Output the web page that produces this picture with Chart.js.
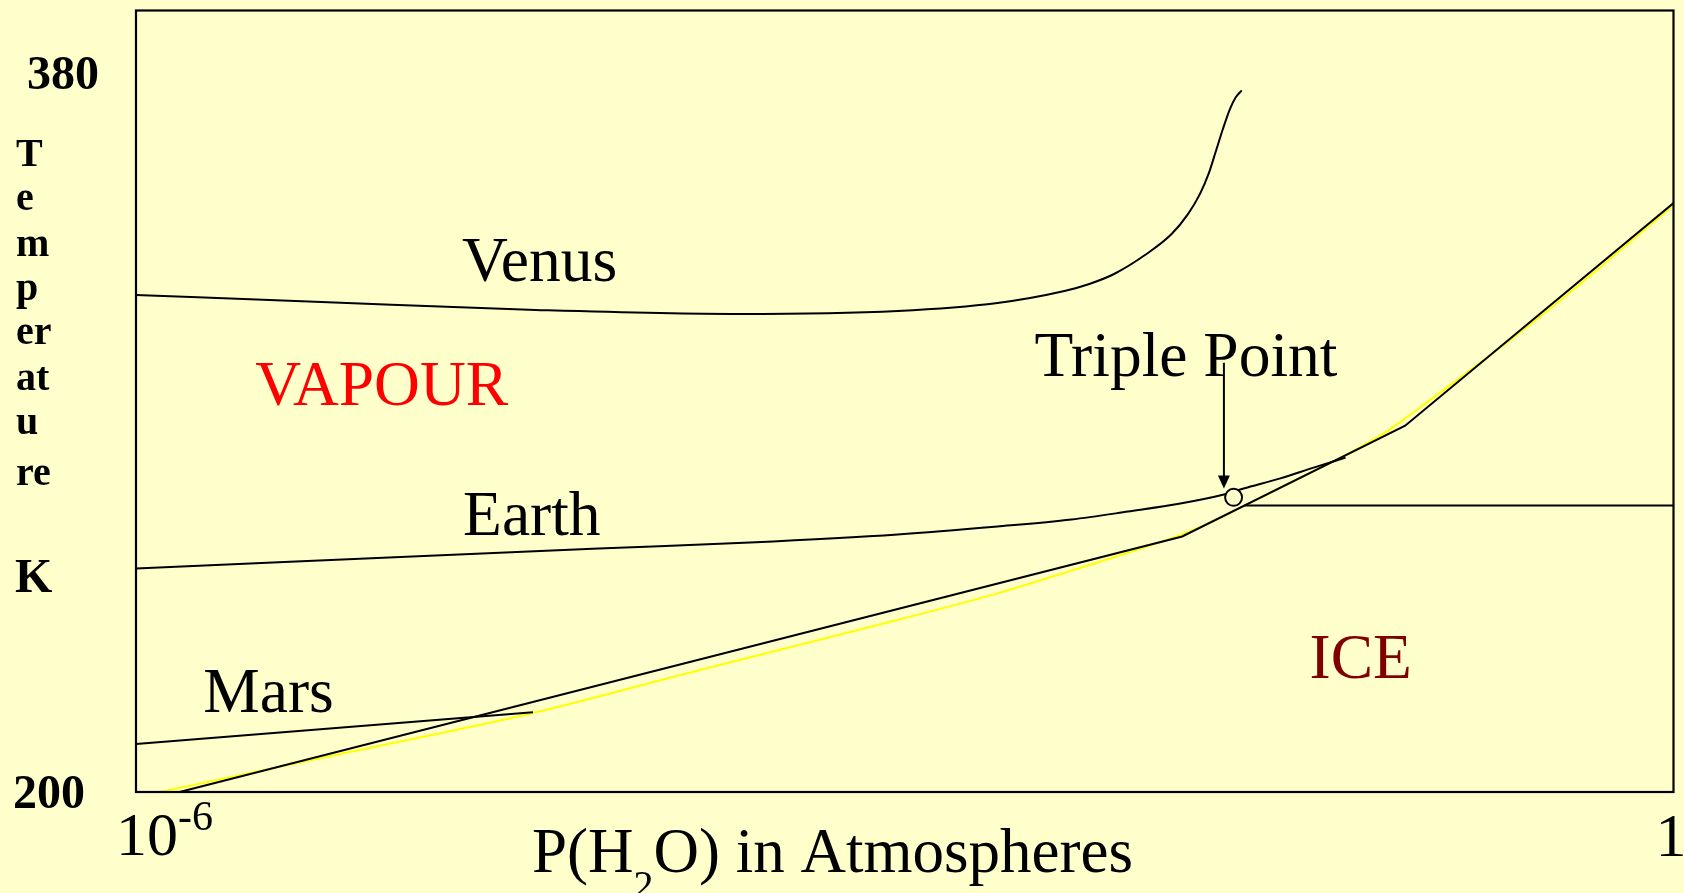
<!DOCTYPE html>
<html lang="en">
<head>
<meta charset="UTF-8">
<title>Water vapour pressure - Venus, Earth, Mars</title>
<script src="https://cdn.jsdelivr.net/npm/chart.js"></script>
<style>
  html, body { margin: 0; padding: 0; background: #ffffcc; overflow: hidden; }
  canvas { display: block; }
</style>
</head>
<body>
<canvas id="chart" width="1684" height="893"></canvas>
<script>
// pressure of H2O in atm (log axis), temperature in K
const venusP = [1e-6, 5.30e-6, 3.63e-5, 2.26e-4, 9.40e-4, 2.30e-3, 4.20e-3, 5.25e-3, 6.56e-3, 8.66e-3,
                1.10e-2, 1.274e-2, 1.418e-2, 1.537e-2, 1.637e-2, 1.743e-2, 1.856e-2, 1.958e-2, 2.066e-2];
const venusT = [324.5, 322.75, 320.75, 319.75, 320.5, 322.5, 325.5, 327.25, 329.75, 334.5,
                339.75, 344.75, 349.75, 355, 360.5, 366, 371, 374, 375.75];

const earthP = [1e-6, 6.38e-5, 2.49e-4, 9.39e-4, 2.30e-3, 4.47e-3, 7.44e-3, 1.19e-2, 1.76e-2, 2.10e-2, 2.90e-2, 3.94e-2, 5.25e-2];
const earthT = [256, 261, 262.5, 264.5, 266.5, 268.25, 270.25, 272.25, 274.5, 276, 278.5, 281.25, 283.75];

const marsP = [1e-6, 3.54e-5];
const marsT = [212, 220];

// sublimation curve (yellow) and the schematic ice boundary (black)
const sublP = [1.24e-6, 6.80e-6, 3.54e-5, 1.57e-4, 6.50e-4, 2.30e-3, 5.64e-3, 8.82e-3, 1.21e-2,
               1.62e-2, 2.16e-2, 3.38e-2, 5.29e-2, 7.58e-2, 1.02e-1, 2.03e-1, 3.63e-1, 1];
const sublT = [200, 210, 219.8, 230.5, 240.5, 249.75, 257.5, 261.5, 264.5,
               268, 272, 278.25, 284.5, 290.25, 296.25, 310.5, 323.25, 347];

const iceP = [1.48e-6, 1.21e-2, 8.97e-2, 1];
const iceT = [200, 264, 291.75, 347.5];

const meltP = [2.12e-2, 1];
const meltT = [271.75, 271.75];

const tripleP = [1.92e-2];
const tripleT = [273.8];

const yTicks = [200, 380];
const yTickLabels = ['200', '380'];
const xTicks = [1e-6, 1];
const yAxisLetters = ['T', 'e', 'm', 'p', 'er', 'at', 'u', 're'];
const yAxisUnit = 'K';
const regionLabels = ['Venus', 'VAPOUR', 'Earth', 'Mars', 'Triple Point', 'ICE'];

const BG = '#ffffcc';
const FONT = "'Liberation Serif', 'Times New Roman', serif";

function pts(xs, ys) {
  return xs.map((v, i) => ({ x: v, y: ys[i] }));
}

function text(ctx, str, x, y, size, bold, color) {
  ctx.font = (bold ? 'bold ' : '') + size + 'px ' + FONT;
  ctx.fillStyle = color || '#000';
  ctx.textAlign = 'left';
  ctx.textBaseline = 'alphabetic';
  ctx.fillText(str, x, y);
  return ctx.measureText(str).width;
}

const decorations = {
  id: 'decorations',
  afterDraw(chart) {
    const { ctx, chartArea: a, scales: { x, y } } = chart;
    ctx.save();

    // plot frame
    ctx.strokeStyle = '#000';
    ctx.lineWidth = 2.2;
    ctx.strokeRect(a.left, a.top, a.width, a.height);

    // arrow to the triple point
    const ax = x.getPixelForValue(1.76e-2);
    const ay0 = y.getPixelForValue(307.5);
    const ay1 = y.getPixelForValue(276);
    ctx.lineWidth = 2;
    ctx.beginPath();
    ctx.moveTo(ax, ay0);
    ctx.lineTo(ax, ay1 - 10);
    ctx.stroke();
    ctx.beginPath();
    ctx.moveTo(ax, ay1);
    ctx.lineTo(ax - 6, ay1 - 13);
    ctx.lineTo(ax + 6, ay1 - 13);
    ctx.closePath();
    ctx.fillStyle = '#000';
    ctx.fill();

    // labels inside the plot
    const anchors = [
      [1.87e-5, 328, '#000'],
      [2.92e-6, 297, '#ff0000'],
      [1.89e-5, 264.25, '#000'],
      [1.83e-6, 220, '#000'],
      [3.21e-3, 304.25, '#000'],
      [3.80e-2, 228.5, '#800000']
    ];
    regionLabels.forEach((s, i) => {
      const [p, t, c] = anchors[i];
      text(ctx, s, x.getPixelForValue(p), y.getPixelForValue(t), 63.5, false, c);
    });

    // y tick labels
    const yLeft = [13, 27];
    yTicks.forEach((v, i) => {
      text(ctx, yTickLabels[i], yLeft[i], y.getPixelForValue(v) + 16, 48, true);
    });

    // y axis title, stacked letters
    const base = [166, 210, 256, 300, 344, 390, 434, 485];
    yAxisLetters.forEach((s, i) => text(ctx, s, 16, base[i], 40, true));
    text(ctx, yAxisUnit, 15, 592, 48, true);

    // x tick labels
    const x0 = x.getPixelForValue(xTicks[0]) - 20;
    const w = text(ctx, '10', x0, 855, 62);
    text(ctx, '-6', x0 + w, 830, 42);
    text(ctx, '1', x.getPixelForValue(xTicks[1]) - 18, 856, 62);

    // x axis title with subscript
    let tx = 532;
    tx += text(ctx, 'P(H', tx, 872, 63);
    tx += text(ctx, '2', tx, 898, 40);
    text(ctx, 'O) in Atmospheres', tx, 872, 63);

    ctx.restore();
  }
};

const line = (data, extra) => Object.assign({
  data: data,
  borderColor: '#000',
  borderWidth: 2,
  pointRadius: 0,
  fill: false,
  tension: 0,
  order: 1
}, extra);

new Chart(document.getElementById('chart'), {
  type: 'line',
  data: {
    datasets: [
      {
        data: pts(tripleP, tripleT),
        showLine: false,
        pointRadius: 8.5,
        pointBackgroundColor: BG,
        pointBorderColor: '#000',
        pointBorderWidth: 2,
        order: 0
      },
      line(pts(venusP, venusT), { cubicInterpolationMode: 'monotone' }),
      line(pts(earthP, earthT), { cubicInterpolationMode: 'monotone' }),
      line(pts(marsP, marsT)),
      line(pts(iceP, iceT)),
      line(pts(meltP, meltT)),
      line(pts(sublP, sublT), { borderColor: '#ffff00', cubicInterpolationMode: 'monotone', order: 2 })
    ]
  },
  options: {
    responsive: false,
    animation: false,
    events: [],
    layout: { padding: { left: 136, top: 9, right: 6, bottom: 101 } },
    plugins: { legend: { display: false }, tooltip: { enabled: false } },
    scales: {
      x: { type: 'logarithmic', min: 1e-6, max: 1, display: false },
      y: { type: 'linear', min: 200, max: 395.75, display: false }
    }
  },
  plugins: [decorations]
});
</script>
</body>
</html>
